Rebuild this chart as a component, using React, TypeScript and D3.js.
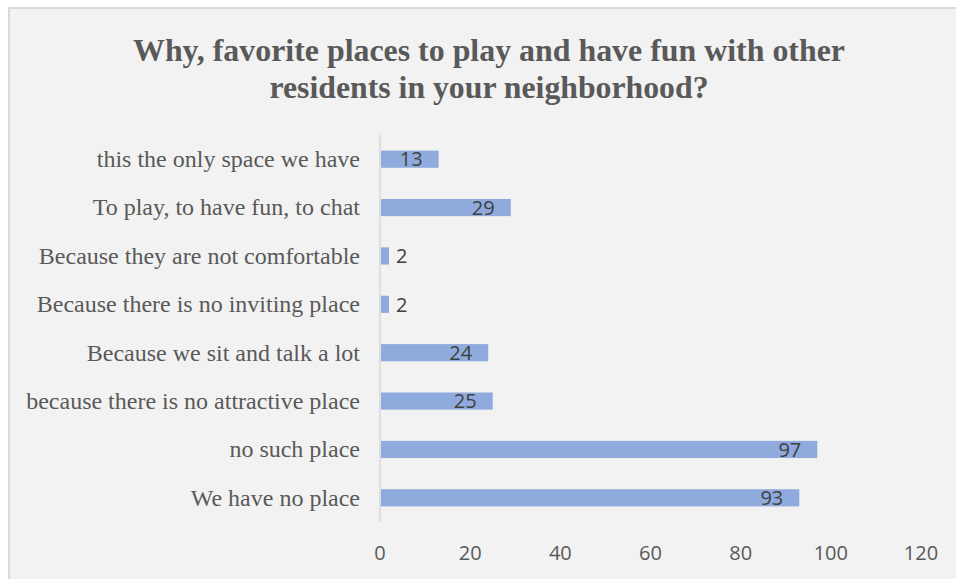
import React, { useEffect, useRef } from "react";
import * as d3 from "d3";

const categories = [
  "this the only space we have",
  "To play, to have fun, to chat",
  "Because they are not comfortable",
  "Because there is no inviting place",
  "Because we sit and talk a lot",
  "because there is no attractive place",
  "no such place",
  "We have no place",
];
const values = [13, 29, 2, 2, 24, 25, 97, 93];
const xTicks = [0, 20, 40, 60, 80, 100, 120];
const titleLines = [
  "Why, favorite places to play and have fun with other",
  "residents in your neighborhood?",
];

const W = 956;
const H = 579;

export default function App() {
  const ref = useRef<SVGSVGElement>(null);
  useEffect(() => {
    const svg = d3.select(ref.current);
    svg.selectAll("*").remove();

    // background + borders
    svg.append("rect").attr("x", 8).attr("y", 7).attr("width", W - 8).attr("height", H - 7).attr("fill", "#f2f2f2");
    svg.append("line").attr("x1", 9).attr("x2", 9).attr("y1", 7).attr("y2", H).attr("stroke", "#d9d9d9").attr("stroke-width", 2);
    svg.append("line").attr("x1", 8).attr("x2", W).attr("y1", 8).attr("y2", 8).attr("stroke", "#d9d9d9").attr("stroke-width", 2);

    // title
    const titleY = [61, 98];
    const titleW = [712, 439];
    titleLines.forEach((t, i) => {
      svg.append("text")
        .attr("x", 489)
        .attr("y", titleY[i])
        .attr("text-anchor", "middle")
        .attr("font-family", "'Liberation Serif', 'Times New Roman', serif")
        .attr("font-weight", "bold")
        .attr("font-size", 32)
        .attr("fill", "#595959")
        .attr("textLength", titleW[i])
        .attr("lengthAdjust", "spacingAndGlyphs")
        .text(t);
    });

    const x = d3.scaleLinear().domain([0, 120]).range([380, 921]);
    const y = d3.scaleBand<string>().domain(categories).range([135, 522]).paddingInner(0.645).paddingOuter(0.3225);

    // axis line
    svg.append("line")
      .attr("x1", x(0)).attr("x2", x(0))
      .attr("y1", 135).attr("y2", 522)
      .attr("stroke", "#d9d9d9").attr("stroke-width", 1.5);

    // bars
    svg.selectAll("rect.bar")
      .data(values)
      .enter()
      .append("rect")
      .attr("class", "bar")
      .attr("x", x(0) + 1)
      .attr("y", (_, i) => y(categories[i])!)
      .attr("width", (d) => x(d) - x(0) - 1)
      .attr("height", y.bandwidth())
      .attr("fill", "#8faadc");

    // data labels
    svg.selectAll("text.val")
      .data(values)
      .enter()
      .append("text")
      .attr("class", "val")
      .attr("x", (d) => (d < 5 ? x(d) + 7 : x(d) - 16))
      .attr("y", (_, i) => y(categories[i])! + y.bandwidth() / 2)
      .attr("dy", "0.36em")
      .attr("text-anchor", (d) => (d < 5 ? "start" : "end"))
      .attr("font-family", "'Open Sans', 'Noto Sans', sans-serif")
      .attr("font-size", 20)
      .attr("fill", "#404040")
      .text((d) => String(d));

    // category labels
    svg.selectAll("text.cat")
      .data(categories)
      .enter()
      .append("text")
      .attr("class", "cat")
      .attr("x", 360)
      .attr("y", (d) => y(d)! + y.bandwidth() / 2)
      .attr("dy", "0.33em")
      .attr("text-anchor", "end")
      .attr("font-family", "'Liberation Serif', 'Times New Roman', serif")
      .attr("font-size", 24)
      .attr("fill", "#595959")
      .text((d) => d);

    // x tick labels
    svg.selectAll("text.tick")
      .data(xTicks)
      .enter()
      .append("text")
      .attr("class", "tick")
      .attr("x", (d) => x(d))
      .attr("y", 553)
      .attr("dy", "0.35em")
      .attr("text-anchor", "middle")
      .attr("font-family", "'Open Sans', 'Noto Sans', sans-serif")
      .attr("font-size", 20)
      .attr("fill", "#595959")
      .text((d) => String(d));
  }, []);

  return (
    <svg
      ref={ref}
      width={W}
      height={H}
      style={{ position: "absolute", left: 0, top: 0, display: "block" }}
    />
  );
}
